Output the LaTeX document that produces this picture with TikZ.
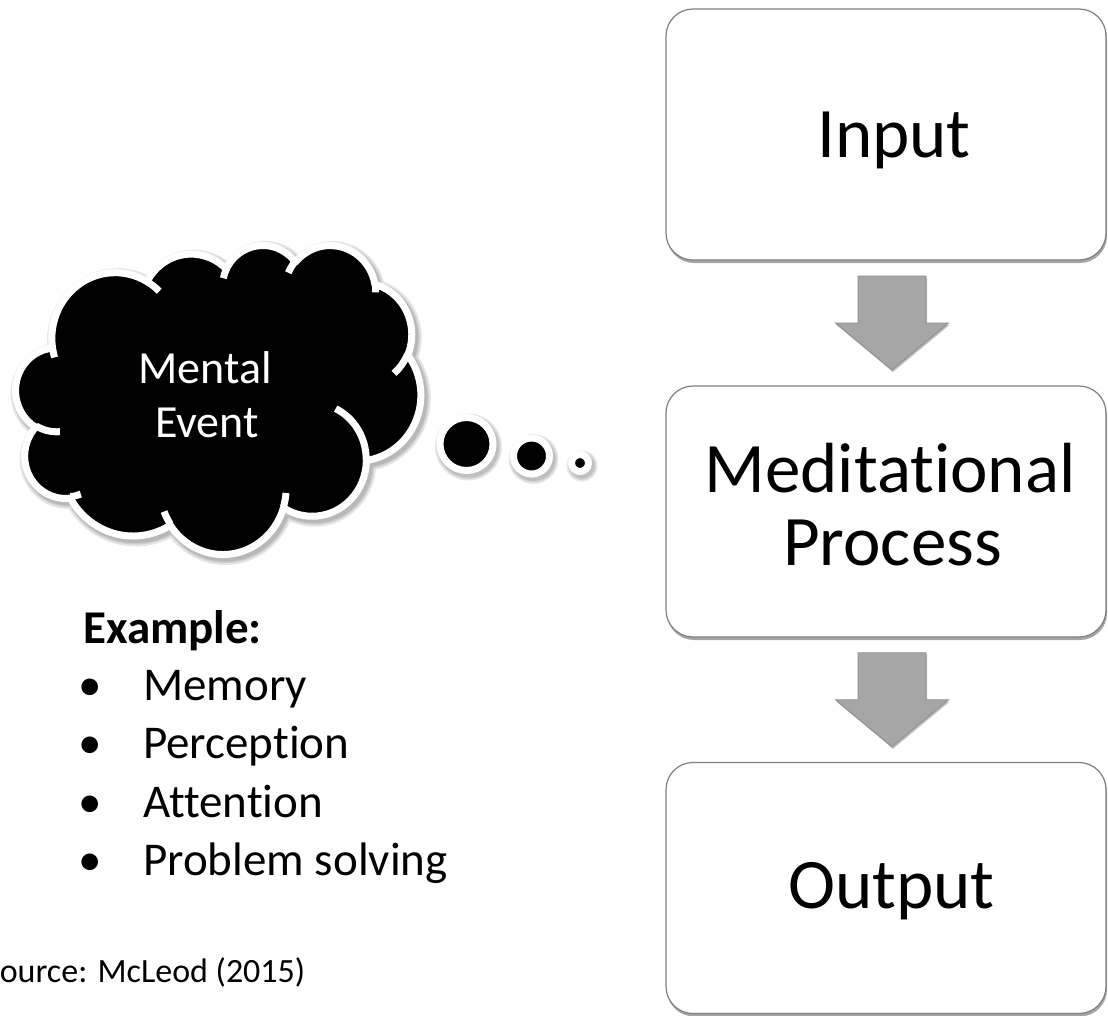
\documentclass[tikz,border=0pt]{standalone}
\usepackage{fontspec}
\setmainfont{Carlito}[Ligatures={NoCommon}]
\usetikzlibrary{calc,shadows,backgrounds}
\definecolor{arrowgray}{HTML}{A6A6A6}
\definecolor{arrowedge}{HTML}{8E8E8E}
\definecolor{boxedge}{HTML}{7F7F7F}

\newcommand\cloudP{(39.00,143.70)
 arc[x radius=67.53, y radius=91.90, start angle=172.25, delta angle=128.11]
 arc[x radius=53.33, y radius=72.67, start angle=-152.02, delta angle=106.58]
 arc[x radius=43.65, y radius=59.45, start angle=-153.49, delta angle=116.16]
 arc[x radius=48.57, y radius=65.95, start angle=-139.72, delta angle=129.50]
 arc[x radius=53.33, y radius=72.73, start angle=-74.77, delta angle=97.99]
 arc[x radius=67.75, y radius=92.20, start angle=-37.52, delta angle=119.39]
 arc[x radius=57.85, y radius=78.67, start angle=0.46, delta angle=121.52]
 arc[x radius=67.52, y radius=92.15, start angle=16.85, delta angle=129.37]
 arc[x radius=77.20, y radius=105.43, start angle=58.98, delta angle=91.22]
 arc[x radius=43.60, y radius=59.18, start angle=83.30, delta angle=139.82]
 arc[x radius=43.45, y radius=59.45, start angle=120.35, delta angle=143.76]
 -- cycle}

\newcommand\cloudIn{
 (46.93,261.77) arc[x radius=43.45, y radius=59.45, start angle=85.54, delta angle=34.81]
 (69.28,348.99) arc[x radius=43.60, y radius=59.18, start angle=68.25, delta angle=15.05]
 (164.78,390.90) arc[x radius=67.52, y radius=92.15, start angle=146.22, delta angle=12.25]
 (288.27,347.51) arc[x radius=67.52, y radius=92.15, start angle=4.73, delta angle=12.12]
 (341.29,229.54) arc[x radius=57.85, y radius=78.67, start angle=-64.03, delta angle=64.49]
 (417.98,153.54) arc[x radius=53.33, y radius=72.73, start angle=23.22, delta angle=26.42]
 (383.24,54.26) arc[x radius=48.57, y radius=65.95, start angle=-10.22, delta angle=11.05]
 (290.78,39.52) arc[x radius=48.57, y radius=65.95, start angle=-156.30, delta angle=16.58]
 (221.41,47.20) arc[x radius=43.65, y radius=59.45, start angle=-167.72, delta angle=14.23]
 (140.00,51.92) arc[x radius=67.53, y radius=91.90, start angle=-59.64, delta angle=13.90]
 (41.27,157.89) arc[x radius=67.53, y radius=91.90, start angle=163.19, delta angle=9.06]
}

\begin{document}
\begin{tikzpicture}[x=1pt,y=-1pt,
  box/.style={draw=boxedge, line width=1.2pt, fill=white, rounded corners=27pt,
    minimum width=440pt, minimum height=251pt, inner sep=0pt,
    drop shadow={shadow xshift=1pt, shadow yshift=-3pt, opacity=0.35, fill=black}},
  boxtxt/.style={font=\fontsize{71}{73}\selectfont, anchor=base, inner sep=0pt},
  cloudtxt/.style={font=\fontsize{46}{54}\selectfont, text=white, anchor=base, inner sep=0pt},
  listtxt/.style={font=\fontsize{47}{58}\selectfont, anchor=base west, inner sep=0pt},
  bubble/.style={circle, fill=black, draw=white, line width=7pt, inner sep=0pt},
  blockarrow/.style={fill=arrowgray, draw=arrowedge, line width=0.8pt,
    drop shadow={shadow xshift=1pt, shadow yshift=-2pt, opacity=0.25, fill=black}},
  shadowline/.style={draw=black, opacity=0.10}
]
\useasboundingbox (0,0) rectangle (1108,1015);

% cloud shadow
\begin{scope}[shift={(18.4,247.5)}, x=0.937pt, y=-0.715pt]
  \draw[shadowline, line width=15pt] \cloudP;
  \draw[shadowline, line width=11pt] \cloudP;
  \draw[shadowline, line width=8pt] \cloudP;
\end{scope}
% cloud
\begin{scope}[shift={(15.9,244.5)}, x=0.937pt, y=-0.715pt]
  \fill[black] \cloudP;
  \draw[white, line width=7pt] \cloudIn;
  \draw[white, line width=7pt, line join=round] \cloudP;
\end{scope}
\node[cloudtxt] (mental) at (205,383) {Mental};
\node[cloudtxt] (event) at (207,437) {Event};

% thought bubbles
\node[bubble, minimum size=53pt] (b1) at (466.5,444) {};
\node[bubble, minimum size=36pt] (b2) at (531.5,456) {};
\node[bubble, minimum size=17pt] (b3) at (580,463) {};
\begin{scope}[on background layer]
  \fill[white] (0,0) rectangle (1108,1015);
  \foreach \b/\r in {b1/30, b2/21.5, b3/12}{
    \fill[black, opacity=0.09] ($(\b)+(2,3)$) circle (\r+3.5);
    \fill[black, opacity=0.09] ($(\b)+(2,3)$) circle (\r+2);
    \fill[black, opacity=0.09] ($(\b)+(2,3)$) circle (\r+0.5);
  }
\end{scope}

% example list
\node[listtxt, font=\fontsize{47}{58}\bfseries\selectfont] (ex) at (83,643) {Example:};
\node[listtxt] (u1) at (78,700) {•};
\node[listtxt] (l1) at (143,700) {Memory};
\node[listtxt] (u2) at (78,758) {•};
\node[listtxt] (l2) at (143,758) {Perception};
\node[listtxt] (u3) at (78,817) {•};
\node[listtxt] (l3) at (143,817) {Attention};
\node[listtxt] (u4) at (78,875) {•};
\node[listtxt] (l4) at (143,875) {Problem solving};

% source
\node[anchor=base west, inner sep=0pt, font=\fontsize{34}{40}\selectfont] (src) at (-16,982) {Source: McLeod (2015)};

% boxes
\node[box] (in) at (886,134.5) {};
\node[box] (mid) at (886,511.5) {};
\node[box] (out) at (886,888) {};
\node[boxtxt] (tin) at (894,157) {Input};
\node[boxtxt] (tmid1) at (890,492) {Meditational};
\node[boxtxt] (tmid2) at (892.5,565) {Process};
\node[boxtxt] (tout) at (891.5,908) {Output};

% block arrows
\coordinate (m1) at ($(in.south)!0.5!(mid.north)+(6,0)$);
\coordinate (m2) at ($(mid.south)!0.5!(out.north)+(6,0)$);
\foreach \m in {m1,m2}{
  \draw[blockarrow] ($(\m)+(-34,-47)$) -- ($(\m)+(34,-47)$) -- ($(\m)+(34,0)$)
    -- ($(\m)+(56.5,0)$) -- ($(\m)+(0,47)$) -- ($(\m)+(-56.5,0)$)
    -- ($(\m)+(-34,0)$) -- cycle;
}
\end{tikzpicture}
\end{document}
